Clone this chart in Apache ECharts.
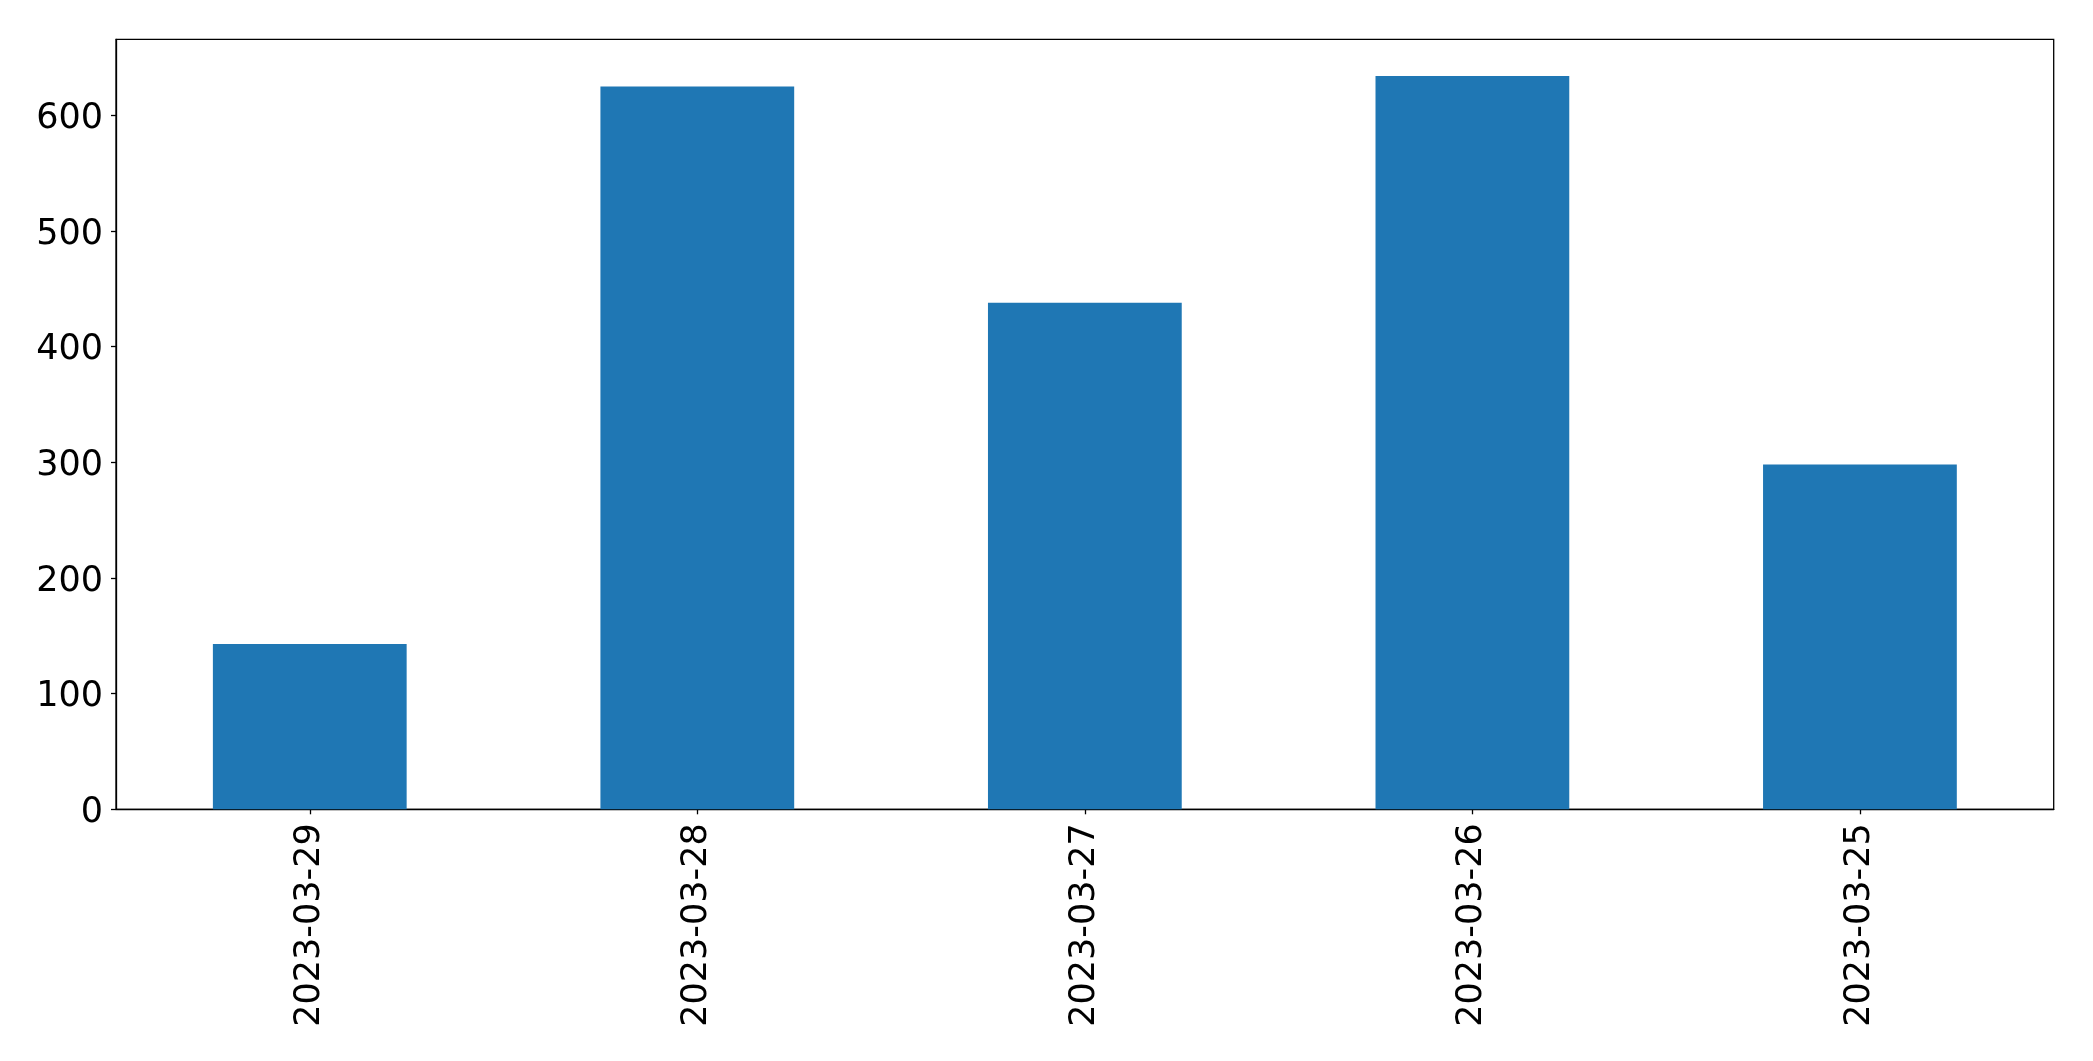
<!DOCTYPE html>
<html>
<head>
<meta charset="utf-8">
<script src="https://cdn.jsdelivr.net/npm/echarts@6/dist/echarts.min.js"></script>
<style>html,body{margin:0;padding:0;background:#fff;}#c{width:2093px;height:1061px;}</style>
</head>
<body>
<div id="c"></div>
<script>
const categories = ["2023-03-29", "2023-03-28", "2023-03-27", "2023-03-26", "2023-03-25"];
const values = [143, 625, 438, 634, 298];
const yMax = 665.7;

const chart = echarts.init(document.getElementById('c'), null, {renderer: 'canvas'});
const font = 'DejaVu Sans';
chart.setOption({
  animation: false,
  backgroundColor: '#fff',
  grid: {left: 116, right: 39.3, top: 39.3, bottom: 251.7, show: true, borderColor: '#000', borderWidth: 1.3, backgroundColor: 'transparent'},
  xAxis: {
    type: 'category',
    data: categories,
    axisLine: {show: true, lineStyle: {color: '#000', width: 1.3}},
    axisTick: {show: true, alignWithLabel: true, length: 5, lineStyle: {color: '#000', width: 1.3}},
    axisLabel: {rotate: 90, margin: 14, fontSize: 35, color: '#000', fontFamily: font, interval: 0},
    splitLine: {show: false}
  },
  yAxis: {
    type: 'value',
    min: 0, max: yMax, interval: 100,
    axisLine: {show: true, lineStyle: {color: '#000', width: 1.3}},
    axisTick: {show: true, length: 5, lineStyle: {color: '#000', width: 1.3}},
    axisLabel: {
      margin: 13, fontSize: 35, color: '#000', fontFamily: font, showMaxLabel: false,
      formatter: '{a|{value}}',
      rich: {a: {fontSize: 35, color: '#000', fontFamily: font, padding: [7, 0, 0, 0]}}
    },
    splitLine: {show: false}
  },
  series: [{
    type: 'bar',
    data: values,
    barWidth: '50%',
    itemStyle: {color: '#1f77b4'}
  }]
});
</script>
</body>
</html>
